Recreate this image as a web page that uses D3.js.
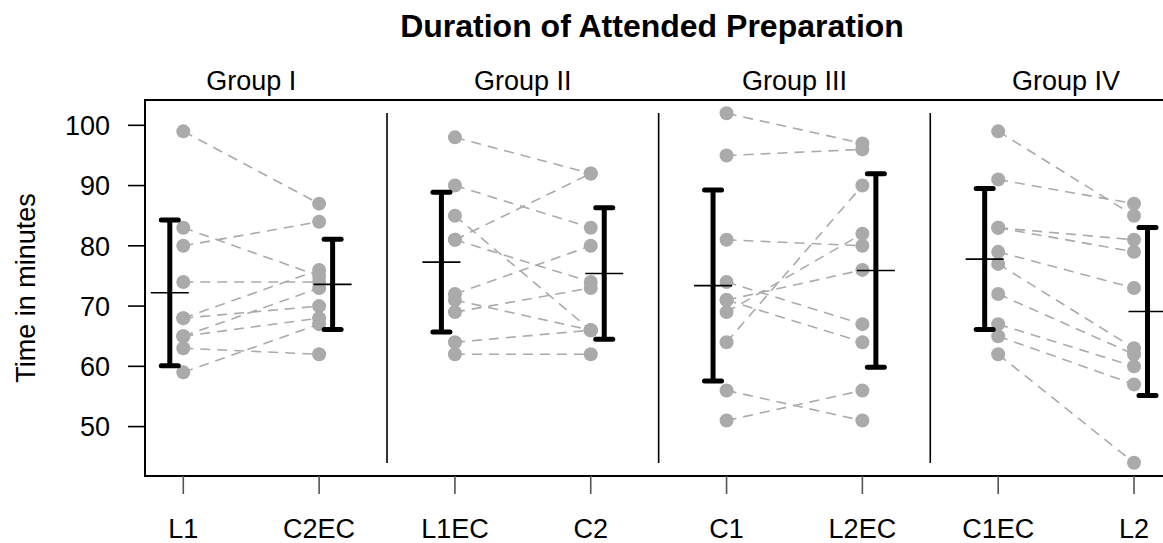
<!DOCTYPE html>
<html>
<head>
<meta charset="utf-8">
<script src="https://cdn.jsdelivr.net/npm/d3@7"></script>
<style>
  body { margin: 0; background: #fff; }
  text { font-family: "Liberation Sans", Arial, sans-serif; fill: #000; }
</style>
</head>
<body>
<div id="chart"></div>
<script>
// Chart data
const groups = ["Group I", "Group II", "Group III", "Group IV"];
const conditions = ["L1", "C2EC", "L1EC", "C2", "C1", "L2EC", "C1EC", "L2"];
// paired values: first condition / second condition of each group
const firstValues = [
  [99, 83, 80, 74, 68, 68, 65, 65, 63, 59],
  [98, 90, 85, 81, 81, 72, 71, 69, 64, 62],
  [102, 95, 81, 74, 71, 71, 69, 64, 56, 51],
  [99, 91, 83, 83, 79, 77, 72, 67, 65, 62]
];
const secondValues = [
  [87, 75, 84, 74, 76, 70, 73, 68, 62, 67],
  [92, 83, 66, 92, 74, 80, 66, 73, 66, 62],
  [97, 96, 80, 67, 64, 76, 82, 90, 51, 56],
  [85, 87, 81, 79, 73, 63, 62, 60, 57, 44]
];
const means = [72.2, 73.6, 77.3, 75.4, 73.4, 75.9, 77.8, 69.1];
const sds = [12.1, 7.5, 11.6, 10.9, 15.85, 16.05, 11.7, 13.95];
const yTicks = [50, 60, 70, 80, 90, 100];

// Size of the SVG container
const width = 1163;
const height = 543;
const box = { left: 145, top: 100, right: 1175, bottom: 476 };

const svg = d3.select("#chart")
  .append("svg")
  .attr("width", width)
  .attr("height", height);

// Scales
const xScale = d3.scaleLinear()
  .domain([0, 7])
  .range([183.3, 1134]);

const yScale = d3.scaleLinear()
  .domain([41.8, 104.2])
  .range([box.bottom, box.top]);

// Title
svg.append("text")
  .attr("x", 652)
  .attr("y", 37)
  .attr("text-anchor", "middle")
  .style("font-size", "32px")
  .style("font-weight", "bold")
  .text("Duration of Attended Preparation");

// Group labels
svg.selectAll(".group-label")
  .data(groups)
  .enter()
  .append("text")
  .attr("class", "group-label")
  .attr("x", (d, i) => (xScale(2 * i) + xScale(2 * i + 1)) / 2)
  .attr("y", 90)
  .attr("text-anchor", "middle")
  .style("font-size", "27px")
  .text(d => d);

// Group dividers
svg.selectAll(".divider")
  .data(d3.range(1, groups.length))
  .enter()
  .append("line")
  .attr("class", "divider")
  .attr("x1", i => xScale(2 * i - 0.5))
  .attr("x2", i => xScale(2 * i - 0.5))
  .attr("y1", 113)
  .attr("y2", 463)
  .attr("stroke", "#000")
  .attr("stroke-width", 1.6);

// Paired dashed lines
groups.forEach(function(g, gi) {
  const pairs = d3.zip(firstValues[gi], secondValues[gi]);
  svg.selectAll(".pair-" + gi)
    .data(pairs)
    .enter()
    .append("line")
    .attr("x1", xScale(2 * gi))
    .attr("x2", xScale(2 * gi + 1))
    .attr("y1", d => yScale(d[0]))
    .attr("y2", d => yScale(d[1]))
    .attr("stroke", "#aaaaaa")
    .attr("stroke-width", 1.6)
    .attr("stroke-dasharray", "10,7");
});

// Points
groups.forEach(function(g, gi) {
  [firstValues[gi], secondValues[gi]].forEach(function(vals, k) {
    svg.selectAll(".pt-" + gi + "-" + k)
      .data(vals)
      .enter()
      .append("circle")
      .attr("cx", xScale(2 * gi + k))
      .attr("cy", d => yScale(d))
      .attr("r", 7)
      .attr("fill", "#aaaaaa");
  });
});

// Error bars (mean +/- sd), offset beside the points
const bars = svg.selectAll(".bar")
  .data(means)
  .enter()
  .append("g")
  .attr("transform", (d, i) => "translate(" + (xScale(i) + (i % 2 === 0 ? -13.5 : 13.5)) + ",0)");

bars.append("line")
  .attr("y1", (d, i) => yScale(d - sds[i]))
  .attr("y2", (d, i) => yScale(d + sds[i]))
  .attr("stroke", "#000")
  .attr("stroke-width", 5);

bars.selectAll(".cap")
  .data((d, i) => [d - sds[i], d + sds[i]])
  .enter()
  .append("line")
  .attr("x1", -8.5)
  .attr("x2", 8.5)
  .attr("y1", d => yScale(d))
  .attr("y2", d => yScale(d))
  .attr("stroke", "#000")
  .attr("stroke-width", 5)
  .attr("stroke-linecap", "round");

bars.append("line")
  .attr("x1", -19)
  .attr("x2", 19)
  .attr("y1", d => yScale(d))
  .attr("y2", d => yScale(d))
  .attr("stroke", "#000")
  .attr("stroke-width", 1.6);

// Plot box
svg.append("rect")
  .attr("x", box.left)
  .attr("y", box.top)
  .attr("width", box.right - box.left)
  .attr("height", box.bottom - box.top)
  .attr("fill", "none")
  .attr("stroke", "#000")
  .attr("stroke-width", 2);

// Y axis ticks and labels
svg.selectAll(".ytick")
  .data(yTicks)
  .enter()
  .append("line")
  .attr("x1", 128)
  .attr("x2", box.left)
  .attr("y1", d => yScale(d))
  .attr("y2", d => yScale(d))
  .attr("stroke", "#000")
  .attr("stroke-width", 1.6);

svg.selectAll(".ylabel")
  .data(yTicks)
  .enter()
  .append("text")
  .attr("x", 110)
  .attr("y", d => yScale(d))
  .attr("dy", "0.36em")
  .attr("text-anchor", "end")
  .style("font-size", "27px")
  .text(d => d);

svg.append("text")
  .attr("transform", "translate(35," + ((box.top + box.bottom) / 2) + ") rotate(-90)")
  .attr("text-anchor", "middle")
  .style("font-size", "27px")
  .text("Time in minutes");

// X axis ticks and labels
svg.selectAll(".xtick")
  .data(conditions)
  .enter()
  .append("line")
  .attr("x1", (d, i) => xScale(i))
  .attr("x2", (d, i) => xScale(i))
  .attr("y1", box.bottom)
  .attr("y2", 494)
  .attr("stroke", "#555")
  .attr("stroke-width", 1.6);

svg.selectAll(".xlabel")
  .data(conditions)
  .enter()
  .append("text")
  .attr("x", (d, i) => xScale(i))
  .attr("y", 538)
  .attr("text-anchor", "middle")
  .style("font-size", "27px")
  .text(d => d);
</script>
</body>
</html>
